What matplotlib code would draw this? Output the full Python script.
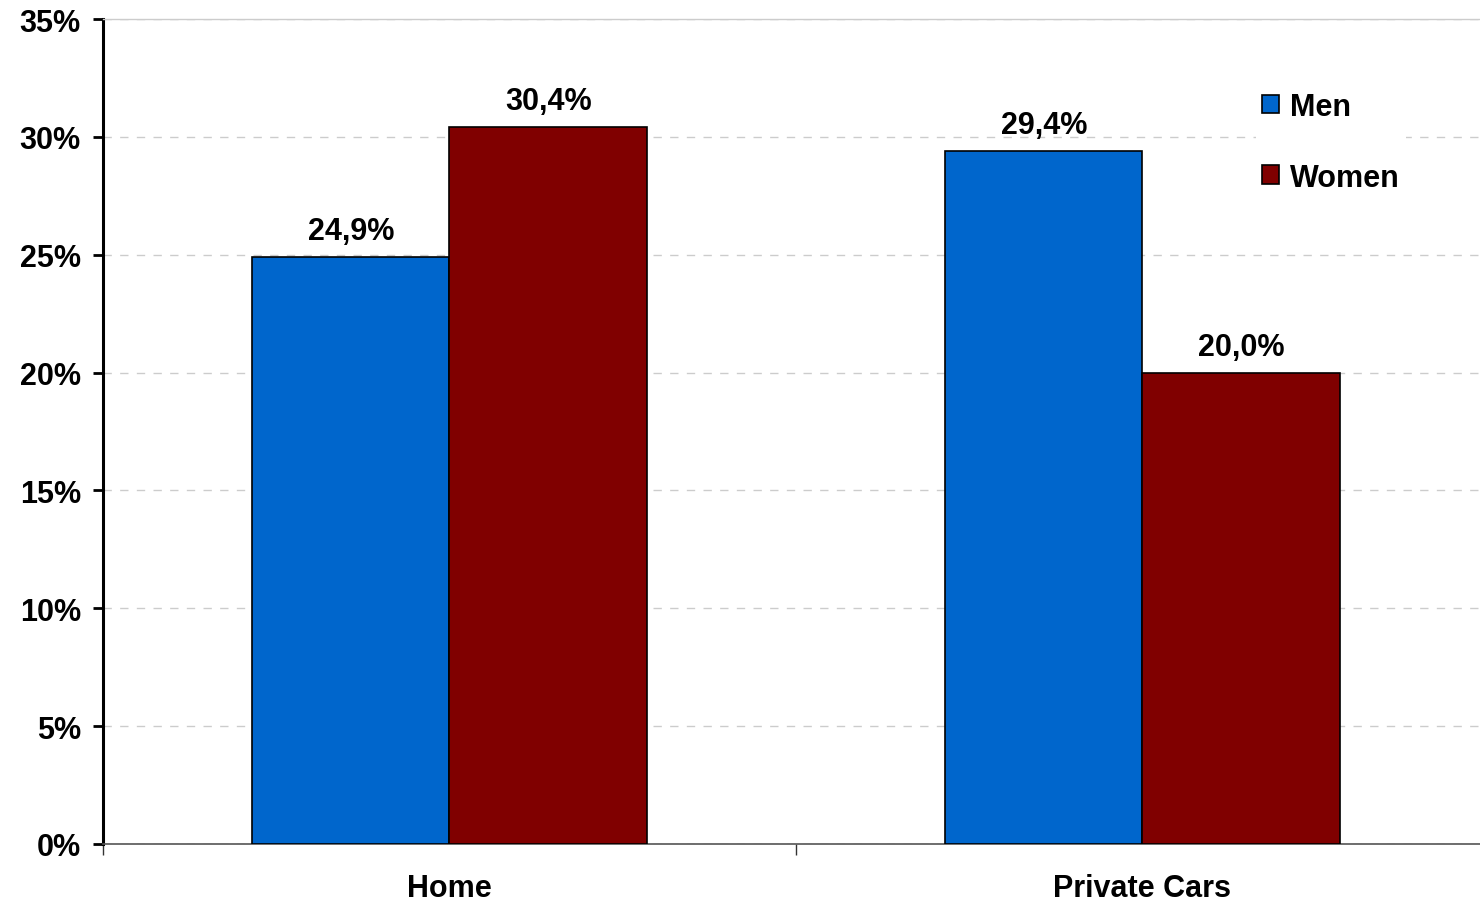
import numpy as np
import matplotlib.pyplot as plt

# Data
categories = ["Home", "Private Cars"]
men = [24.9, 29.4]
women = [30.4, 20.0]
series_names = ["Men", "Women"]
colors = ["#0066CC", "#800000"]

plt.rcParams['font.family'] = ['Liberation Sans', 'DejaVu Sans']
plt.rcParams['font.weight'] = 'bold'
FS = 22

fig = plt.figure(figsize=(14.8, 9.04), dpi=100)
# axes: left x=103, right ~1489, top y=20, bottom y=845
ax = fig.add_axes([103 / 1480, 1 - 845 / 904, (1489 - 103) / 1480, (845 - 20) / 904])

x = np.arange(len(categories))
w = 0.285
b1 = ax.bar(x - w / 2, men, w, color=colors[0], edgecolor="black", linewidth=1.2,
            label=series_names[0], zorder=3)
b2 = ax.bar(x + w / 2, women, w, color=colors[1], edgecolor="black", linewidth=1.2,
            label=series_names[1], zorder=3)

for bars in (b1, b2):
    for r in bars:
        v = r.get_height()
        ax.annotate(f"{v:.1f}%".replace(".", ","), (r.get_x() + r.get_width() / 2, v),
                    xytext=(0, 13), textcoords="offset points", ha="center", va="baseline",
                    fontsize=FS, fontweight="bold")

ax.set_xlim(-0.5, 1.5)
ax.set_ylim(0, 35)
ax.set_yticks(np.arange(0, 36, 5))
ax.set_yticklabels([f"{t}%" for t in range(0, 36, 5)], fontsize=FS, fontweight="bold")
ax.set_xticks([-0.5, 0.5, 1.5])
ax.set_xticklabels([])
ax.set_xticks(x, minor=True)
ax.set_xticklabels(categories, minor=True, fontsize=FS, fontweight="bold")
ax.tick_params(axis="x", which="minor", length=0, pad=21)
ax.tick_params(axis="x", which="major", length=8, width=1, color="#333333", direction="out")
ax.tick_params(axis="y", length=7, width=2, direction="out", pad=9)

ax.yaxis.grid(True, linestyle=(0, (6, 6)), color="#cccccc", linewidth=1, zorder=0)
ax.spines["left"].set_linewidth(2.2)
ax.spines["bottom"].set_color("#555555")
ax.spines["bottom"].set_linewidth(1.2)
ax.spines["right"].set_visible(False)
ax.spines["top"].set_color("#cccccc")
ax.spines["top"].set_linewidth(1)

leg = ax.legend(loc="upper left", bbox_to_anchor=(0.832, 0.919),
                frameon=True, fontsize=FS, handlelength=0.56, handleheight=0.56,
                handletextpad=0.35, labelspacing=1.33, borderaxespad=0, borderpad=0.2)
leg.get_frame().set_edgecolor("none")
leg.get_frame().set_facecolor("white")
leg.get_frame().set_alpha(1)
for t in leg.get_texts():
    t.set_fontweight("bold")

fig.savefig("out.png", dpi=100)
